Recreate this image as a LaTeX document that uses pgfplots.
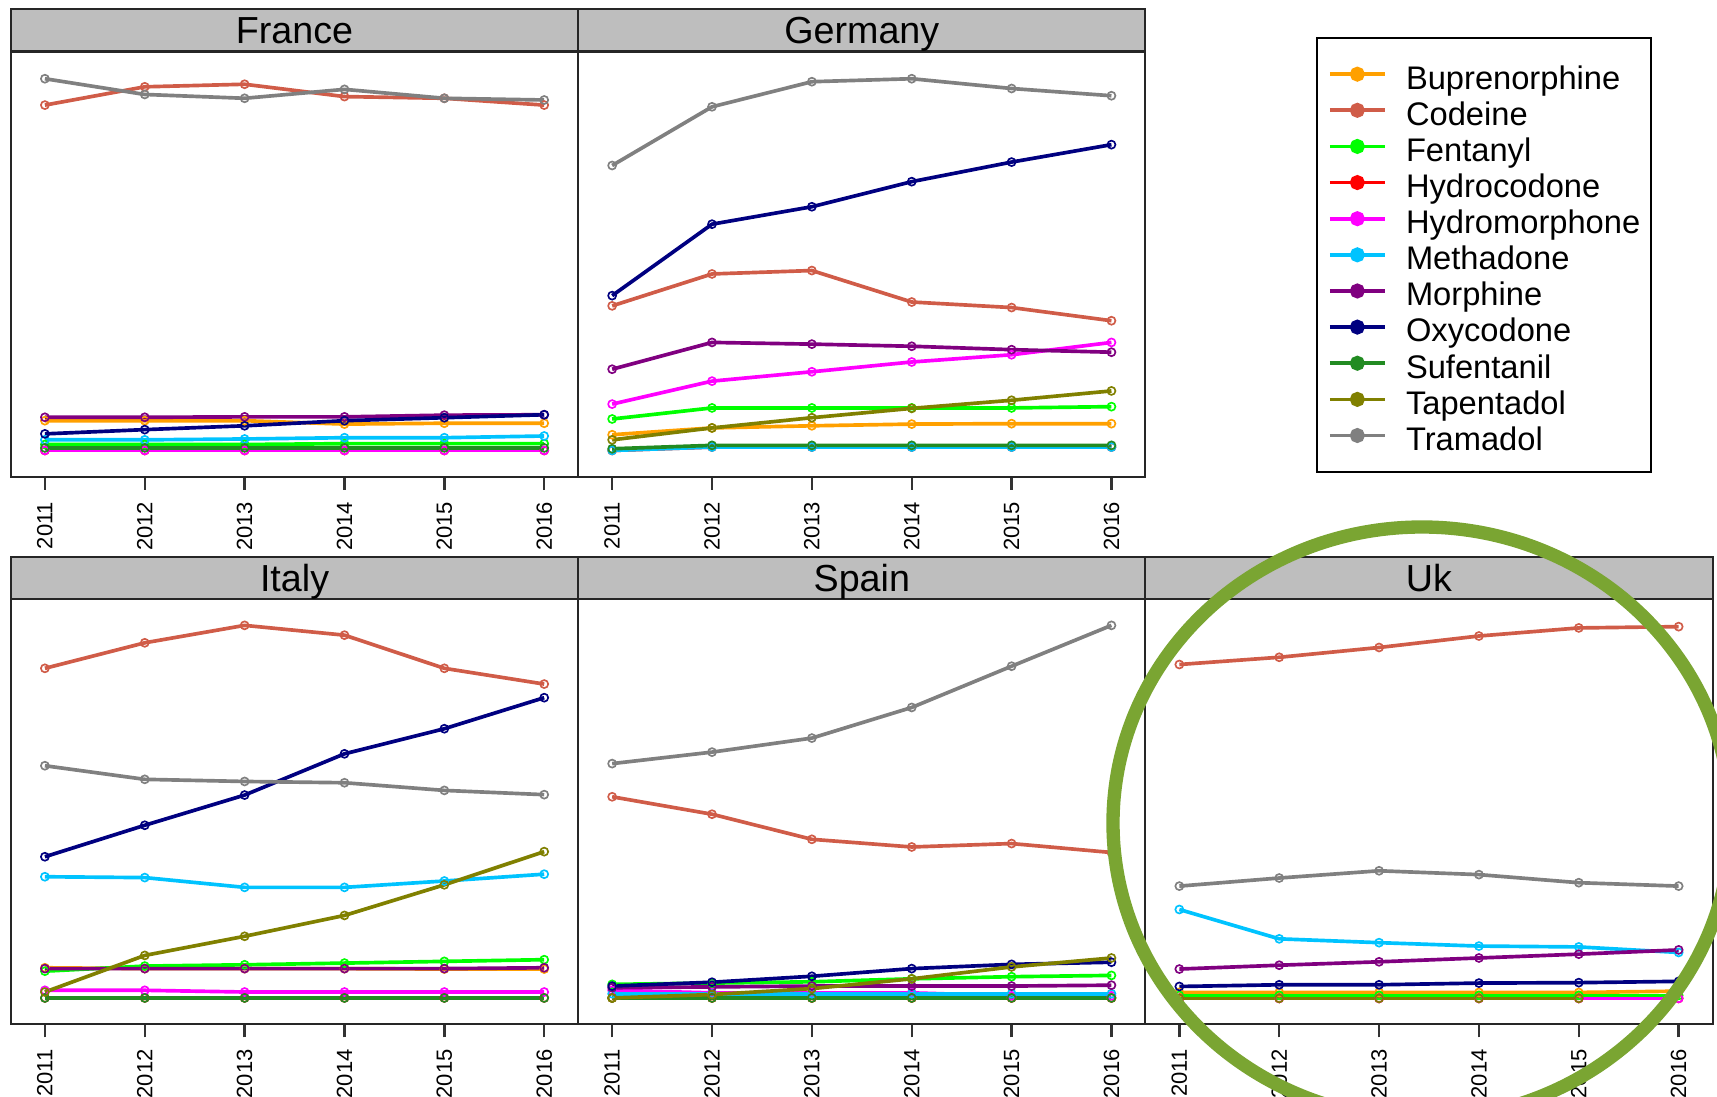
\documentclass[border=0pt]{standalone}
\usepackage{pgfplots}
\pgfplotsset{compat=1.18}
\usepackage{pgfplotstable}
\usepackage{fontspec}
\setmainfont{Liberation Sans}

\definecolor{bup}{RGB}{255,160,0}
\definecolor{cod}{RGB}{208,92,72}
\definecolor{fen}{RGB}{0,255,0}
\definecolor{hyc}{RGB}{255,0,0}
\definecolor{hym}{RGB}{255,0,255}
\definecolor{met}{RGB}{0,195,255}
\definecolor{mor}{RGB}{128,0,128}
\definecolor{oxy}{RGB}{0,0,128}
\definecolor{suf}{RGB}{34,139,34}
\definecolor{tap}{RGB}{128,128,0}
\definecolor{tra}{RGB}{128,128,128}
\definecolor{stripgray}{RGB}{190,190,190}
\definecolor{ringgreen}{RGB}{122,165,50}

% relative position of each value within its own panel (0 = bottom, 100 = top)
\pgfplotstableread{
year bup cod fen hyc hym met mor oxy suf tra
2011 13.2 87.4 7.6 6.2 6.2 8.7 14.0 10.1 6.8 93.6
2012 13.2 91.7 7.6 6.2 6.2 8.7 14.0 11.1 6.8 89.9
2013 13.2 92.3 7.6 6.2 6.2 8.9 14.1 12.0 6.8 89.0
2014 12.4 89.4 7.8 6.2 6.2 9.2 14.1 13.2 6.8 91.1
2015 12.6 89.0 7.8 6.2 6.2 9.2 14.5 13.9 6.8 89.0
2016 12.6 87.4 7.8 6.2 6.2 9.6 14.6 14.6 6.8 88.6
}\France
\pgfplotstableread{
year bup cod fen hyc hym met mor oxy suf tap tra
2011 9.9 40.2 13.6 6.2 17.1 6.2 25.3 42.6 6.6 8.7 73.2
2012 11.5 47.7 16.2 7.0 22.5 7.0 31.6 59.4 7.4 11.5 87.0
2013 12.0 48.5 16.2 7.0 24.7 7.0 31.2 63.5 7.4 13.9 92.9
2014 12.4 41.1 16.2 7.0 27.0 7.0 30.7 69.4 7.4 16.1 93.6
2015 12.5 39.8 16.2 7.0 28.7 7.0 29.9 74.0 7.4 18.0 91.3
2016 12.5 36.7 16.5 7.0 31.6 7.0 29.3 78.1 7.4 20.2 89.6
}\Germany
\pgfplotstableread{
year bup cod fen hyc hym met mor oxy suf tap tra
2011 13.3 83.7 12.5 6.2 8.0 34.7 13.1 39.4 6.2 7.6 60.8
2012 13.1 89.7 13.7 6.2 8.0 34.5 13.1 46.8 6.2 16.2 57.6
2013 13.1 93.8 14.0 6.2 7.6 32.2 13.1 53.9 6.2 20.7 57.1
2014 13.1 91.5 14.4 6.2 7.6 32.2 13.1 63.6 6.2 25.6 56.8
2015 13.0 83.7 14.8 6.2 7.6 33.7 13.1 69.5 6.2 32.8 55.0
2016 13.0 80.0 15.2 6.2 7.6 35.3 13.3 76.8 6.2 40.6 54.0
}\Italy
\pgfplotstableread{
year bup cod fen hyc hym met mor oxy suf tap tra
2011 6.2 53.5 9.4 6.2 8.0 7.2 8.6 9.0 6.2 6.2 61.3
2012 6.2 49.4 9.7 6.2 7.4 7.2 8.8 9.9 6.2 7.0 64.0
2013 6.2 43.5 10.0 6.2 7.4 7.2 9.0 11.3 6.2 8.4 67.3
2014 6.2 41.7 10.7 6.2 7.4 7.2 9.0 13.1 6.2 10.7 74.5
2015 6.2 42.5 11.2 6.2 6.7 7.2 9.0 14.1 6.2 13.5 84.2
2016 6.2 40.4 11.5 6.2 6.7 7.2 9.2 14.6 6.2 15.6 93.8
}\Spain
\pgfplotstableread{
year bup cod fen hyc hym met mor oxy tra
2011 7.5 84.6 6.8 6.1 6.1 27.0 13.0 8.9 32.5
2012 7.5 86.3 6.8 6.1 6.1 20.1 13.9 9.3 34.4
2013 7.5 88.6 6.8 6.1 6.1 19.2 14.7 9.3 36.1
2014 7.5 91.3 6.8 6.1 6.1 18.4 15.6 9.7 35.2
2015 7.5 93.2 6.8 6.1 6.1 18.2 16.5 9.8 33.3
2016 7.8 93.5 6.8 6.1 6.1 16.9 17.5 10.1 32.5
}\Uk
\pgfplotstableread{
year tap
2011 6.1
2012 6.1
2013 6.1
2014 6.1
2015 6.1
}\UkTap

\pgfplotsset{
  panel/.style={
    scale only axis, width=170.16pt, height=127.6pt,
    xmin=2010.66, xmax=2016.34, ymin=0, ymax=100,
    xtick={2011,2012,2013,2014,2015,2016},
    xticklabels={2011,2012,2013,2014,2015,2016},
    ytick=\empty, tick align=outside, xtick pos=bottom,
    major tick length=3.9pt,
    tick style={black!80, line width=0.7pt},
    xticklabel style={rotate=90, anchor=east, inner sep=0pt, xshift=-3.4pt,
      font=\fontsize{6.6}{6.6}\selectfont},
    axis line style={black!85, line width=0.65pt},
    every axis plot/.append style={line width=1.1pt, mark=o, mark size=1.2pt,
      mark options={solid, line width=0.5pt}},
    legend image code/.code={
      \draw[line width=1.1pt] (0pt,0pt) -- (16.5pt,0pt);
      \fill (8.25pt,0pt) circle (1.7pt);},
  },
}

\begin{document}
\begin{tikzpicture}
% ---------- France
\begin{axis}[panel, name=fr, at={(3.285pt,-15.45pt)}, anchor=north west]
\pgfplotsinvokeforeach{bup,cod,fen,hyc,hym,met,mor,oxy,suf,tra}{
  \addplot[color=#1] table[x=year,y=#1]{\France};}
\end{axis}
% ---------- Germany
\begin{axis}[panel, name=de, at={(173.46pt,-15.45pt)}, anchor=north west,
  legend cell align=left,
  legend style={at={(1.3008,1.0337)}, anchor=north west, draw=black,
    line width=0.6pt, inner xsep=3.3pt, inner ysep=6pt,
    font=\fontsize{9.8}{9.8}\selectfont, row sep=1.24pt, column sep=5.8pt,
    nodes={inner sep=0pt, text height=9.25pt, text depth=0.35pt}}]
\pgfplotsinvokeforeach{bup,cod,fen,hyc,hym,met,mor,oxy,suf,tap,tra}{
  \addplot[color=#1] table[x=year,y=#1]{\Germany};}
\legend{Buprenorphine,Codeine,Fentanyl,Hydrocodone,Hydromorphone,Methadone,Morphine,Oxycodone,Sufentanil,Tapentadol,Tramadol}
\end{axis}
% ---------- Italy
\begin{axis}[panel, name=it, at={(3.285pt,-179.7pt)}, anchor=north west]
\pgfplotsinvokeforeach{bup,cod,fen,hyc,hym,met,mor,oxy,suf,tap,tra}{
  \addplot[color=#1] table[x=year,y=#1]{\Italy};}
\end{axis}
% ---------- Spain
\begin{axis}[panel, name=es, at={(173.46pt,-179.7pt)}, anchor=north west]
\pgfplotsinvokeforeach{bup,cod,fen,hyc,hym,met,mor,oxy,suf,tap,tra}{
  \addplot[color=#1] table[x=year,y=#1]{\Spain};}
\end{axis}
% ---------- Uk
\begin{axis}[panel, name=uk, at={(343.62pt,-179.7pt)}, anchor=north west]
\pgfplotsinvokeforeach{bup,cod,fen,hyc,hym,met,mor,oxy}{
  \addplot[color=#1] table[x=year,y=#1]{\Uk};}
\addplot[color=tap] table[x=year,y=tap]{\UkTap};
\addplot[color=tra] table[x=year,y=tra]{\Uk};
\end{axis}
% ---------- strips
\foreach \p/\t in {fr/France,de/Germany,it/Italy,es/Spain,uk/Uk}{
  \draw[fill=stripgray, draw=black!85, line width=0.65pt] (\p.north west) rectangle ([yshift=12.7pt]\p.north east);
  \node[anchor=base, inner sep=0pt, font=\fontsize{11.3}{11.3}\selectfont] at ([yshift=2.3pt]\p.north) {\t};
}
% ---------- highlight ring
\draw[ringgreen, line width=4pt] (426.6pt,-246.9pt) ellipse [x radius=92.7pt, y radius=88.8pt];
\pgfresetboundingbox
\path (0pt,0pt) rectangle (515.1pt,-329.1pt);
\end{tikzpicture}
\end{document}
